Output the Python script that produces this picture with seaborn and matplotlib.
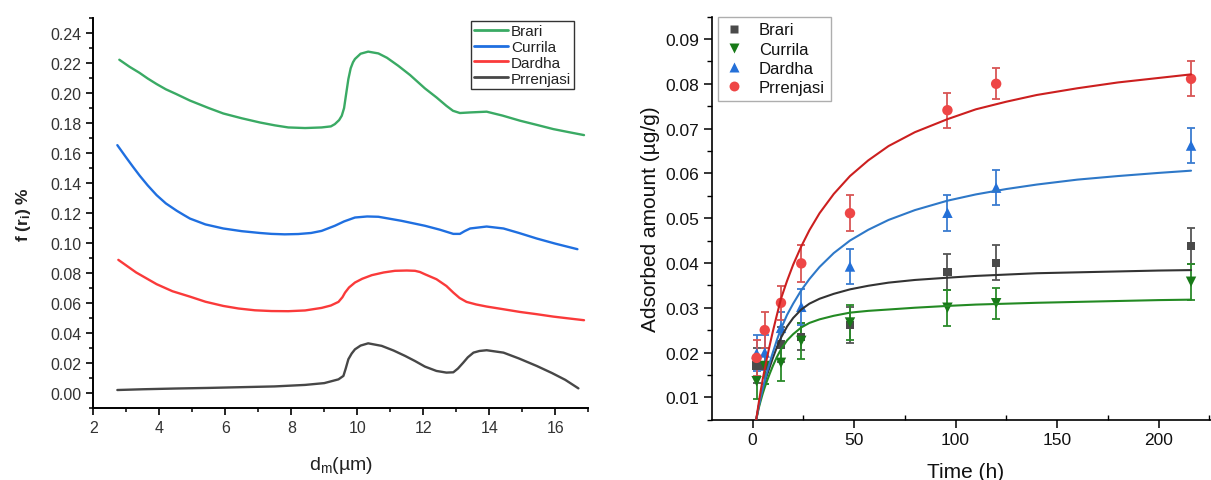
import matplotlib
matplotlib.use("Agg")
import matplotlib.pyplot as plt
from matplotlib.ticker import MultipleLocator, FormatStrFormatter
from matplotlib.lines import Line2D
import seaborn as sns
import pandas as pd

# ---------------- Left panel data: size distribution curves ----------------
names = ["Brari", "Currila", "Dardha", "Prrenjasi"]

brari_x = [2.79, 3.1, 3.4, 3.65, 3.92, 4.2, 4.5, 4.93, 5.5, 5.94, 6.5, 7.05, 7.5, 7.91, 8.42, 8.92, 9.2, 9.32,
           9.45, 9.53, 9.6, 9.66, 9.73, 9.8, 9.87, 9.93, 10.1, 10.33, 10.64, 10.9, 11.24, 11.6, 12.05,
           12.4, 12.7, 12.9, 13.11, 13.42, 13.92, 14.4, 14.93, 15.44, 15.94, 16.4, 16.87]
brari_y = [0.2222, 0.2175, 0.2135, 0.2097, 0.2060, 0.2025, 0.1995, 0.1950, 0.1900, 0.1864, 0.1832, 0.1804,
           0.1785, 0.1771, 0.1767, 0.1771, 0.1778, 0.1793, 0.1820, 0.1849, 0.1900, 0.1990, 0.2093, 0.2165,
           0.2205, 0.2227, 0.2262, 0.2276, 0.2264, 0.2235, 0.2182, 0.2120, 0.2031, 0.1971, 0.1915, 0.1882,
           0.1867, 0.1871, 0.1876, 0.1850, 0.1816, 0.1788, 0.1760, 0.1740, 0.1720]

currila_x = [2.73, 3.0, 3.2, 3.41, 3.65, 3.92, 4.2, 4.53, 4.75, 4.93, 5.4, 5.94, 6.5, 7.05, 7.4, 7.8, 8.21,
             8.6, 8.92, 9.32, 9.6, 9.93, 10.3, 10.64, 11.34, 12.05, 12.5, 12.91, 13.11, 13.25, 13.42,
             13.92, 14.43, 14.9, 15.44, 16.0, 16.67]
currila_y = [0.1653, 0.1570, 0.1510, 0.1449, 0.1385, 0.1320, 0.1265, 0.1216, 0.1187, 0.1164, 0.1125,
             0.1098, 0.1080, 0.1068, 0.1062, 0.1059, 0.1061, 0.1068, 0.1082, 0.1116, 0.1145, 0.1171,
             0.1178, 0.1176, 0.1149, 0.1116, 0.1090, 0.1062, 0.1062, 0.1080, 0.1098, 0.1111, 0.1098,
             0.1068, 0.1031, 0.0997, 0.0960]

dardha_x = [2.76, 3.3, 3.92, 4.4, 4.93, 5.4, 5.94, 6.4, 6.9, 7.4, 7.91, 8.42, 8.92, 9.2, 9.43, 9.55,
            9.63, 9.75, 9.93, 10.15, 10.44, 10.8, 11.14, 11.5, 11.75, 11.9, 12.05, 12.4, 12.7,
            12.91, 13.1, 13.31, 13.6, 13.92, 14.43, 14.93, 15.44, 15.94, 16.4, 16.87]
dardha_y = [0.0889, 0.0805, 0.0727, 0.0680, 0.0644, 0.0610, 0.0582, 0.0565, 0.0553, 0.0548, 0.0547,
            0.0552, 0.0569, 0.0585, 0.0609, 0.0640, 0.0671, 0.0705, 0.0738, 0.0763, 0.0787, 0.0805,
            0.0816, 0.0818, 0.0816, 0.0808, 0.0793, 0.0760, 0.0715, 0.0671, 0.0635, 0.0609, 0.0592,
            0.0578, 0.0560, 0.0542, 0.0527, 0.0511, 0.0499, 0.0487]

prrenjasi_x = [2.73, 3.5, 4.5, 5.5, 6.5, 7.5, 8.42, 9.0, 9.43, 9.58, 9.65, 9.73, 9.83, 9.93, 10.1,
               10.33, 10.74, 11.1, 11.45, 11.75, 12.05, 12.4, 12.7, 12.91, 13.05, 13.21, 13.35,
               13.52, 13.7, 13.92, 14.43, 14.9, 15.44, 15.9, 16.3, 16.70]
prrenjasi_y = [0.0022, 0.0027, 0.0032, 0.0036, 0.0041, 0.0046, 0.0056, 0.0068, 0.0093, 0.0116, 0.0165,
               0.0227, 0.0265, 0.0293, 0.0318, 0.0333, 0.0316, 0.0285, 0.0249, 0.0215, 0.0178, 0.0149,
               0.0138, 0.0140, 0.0165, 0.0204, 0.0240, 0.0271, 0.0282, 0.0287, 0.0271, 0.0232, 0.0182,
               0.0135, 0.0090, 0.0033]

# ---------------- Right panel data: adsorption kinetics ----------------
time_h = [2, 6, 14, 24, 48, 96, 120, 216]
brari_q = [0.0171, 0.0170, 0.0218, 0.0235, 0.0261, 0.0380, 0.0400, 0.0438]
brari_err = [0.004, 0.004, 0.004, 0.003, 0.004, 0.004, 0.0039, 0.0041]
currila_q = [0.0136, 0.0170, 0.0177, 0.0226, 0.0267, 0.0300, 0.0310, 0.0358]
currila_err = [0.004, 0.004, 0.004, 0.004, 0.004, 0.004, 0.0035, 0.004]
dardha_q = [0.0198, 0.0200, 0.0255, 0.0302, 0.0392, 0.0512, 0.0568, 0.0662]
dardha_err = [0.004, 0.004, 0.0035, 0.004, 0.004, 0.004, 0.0039, 0.0039]
prrenjasi_q = [0.0188, 0.0250, 0.0311, 0.0399, 0.0511, 0.0741, 0.0800, 0.0811]
prrenjasi_err = [0.004, 0.004, 0.0038, 0.0041, 0.004, 0.0039, 0.0035, 0.0039]

# fitted curves
fit_t = [1.8, 3, 4, 5, 6, 7, 8.5, 10, 12, 14, 17, 20, 24, 28, 33, 40, 48, 57, 67, 80, 96,
         110, 125, 140, 160, 180, 200, 216]
fit_brari = [0.0050, 0.0080, 0.0100, 0.0118, 0.0133, 0.0148, 0.0168, 0.0188, 0.0212, 0.0233, 0.0258,
             0.0277, 0.0296, 0.0309, 0.0320, 0.0331, 0.0341, 0.0349, 0.0356, 0.0362, 0.0367,
             0.0371, 0.0374, 0.0377, 0.0379, 0.0381, 0.0383, 0.0384]
fit_currila = [0.0050, 0.0075, 0.0092, 0.0108, 0.0122, 0.0135, 0.0153, 0.0170, 0.0190, 0.0207, 0.0227,
               0.0241, 0.0256, 0.0266, 0.0274, 0.0282, 0.0289, 0.0293, 0.0296, 0.0300, 0.0304,
               0.0307, 0.0309, 0.0311, 0.0313, 0.0315, 0.0317, 0.0318]
fit_dardha = [0.0050, 0.0078, 0.0099, 0.0119, 0.0137, 0.0154, 0.0178, 0.0200, 0.0228, 0.0253, 0.0284,
              0.0309, 0.0339, 0.0364, 0.0391, 0.0422, 0.0450, 0.0474, 0.0496, 0.0518, 0.0539,
              0.0553, 0.0565, 0.0575, 0.0586, 0.0594, 0.0601, 0.0606]
fit_prrenjasi = [0.0050, 0.0086, 0.0114, 0.0140, 0.0163, 0.0186, 0.0217, 0.0247, 0.0284, 0.0320, 0.0360,
                 0.0396, 0.0437, 0.0473, 0.0511, 0.0554, 0.0594, 0.0629, 0.0661, 0.0692, 0.0721,
                 0.0743, 0.0760, 0.0775, 0.0790, 0.0803, 0.0813, 0.0821]

# ---------------- styling ----------------
sns.set_theme(style="ticks")
plt.rcParams["font.family"] = ["Liberation Sans", "DejaVu Sans"]
plt.rcParams["mathtext.fontset"] = "custom"
plt.rcParams["mathtext.rm"] = "Liberation Sans"
plt.rcParams["mathtext.it"] = "Liberation Sans:italic"
plt.rcParams["mathtext.bf"] = "Liberation Sans:bold"

left_colors = {"Brari": "#3aaa64", "Currila": "#1f6fe0", "Dardha": "#fa3a3a", "Prrenjasi": "#474747"}
pt_colors = {"Brari": "#4a4a4a", "Currila": "#187a18", "Dardha": "#2470d8", "Prrenjasi": "#ee4646"}
err_colors = {"Brari": "#555555", "Currila": "#2a8a2a", "Dardha": "#3a7cd0", "Prrenjasi": "#d85555"}
fit_colors = {"Brari": "#333333", "Currila": "#238a23", "Dardha": "#2e78c8", "Prrenjasi": "#cc1f1f"}
markers = {"Brari": "s", "Currila": "v", "Dardha": "^", "Prrenjasi": "o"}
msizes = {"Brari": 6.0, "Currila": 7.5, "Dardha": 7.5, "Prrenjasi": 7.5}

fig = plt.figure(figsize=(12.11, 4.81), dpi=100)
axL = fig.add_axes([0.0770, 0.1490, 0.4088, 0.8115])
axR = fig.add_axes([0.5879, 0.1254, 0.4191, 0.8380])

# ---------------- left panel ----------------
left_frames = []
for nm, xs, ys in zip(names, [brari_x, currila_x, dardha_x, prrenjasi_x],
                      [brari_y, currila_y, dardha_y, prrenjasi_y]):
    left_frames.append(pd.DataFrame({"d": xs, "f": ys, "site": nm}))
dfL = pd.concat(left_frames, ignore_index=True)
sns.lineplot(data=dfL, x="d", y="f", hue="site", palette=left_colors, sort=False,
             estimator=None, linewidth=1.7, ax=axL, legend=False)
for ln in axL.get_lines():
    ln.set_solid_joinstyle("round")

axL.set_xlim(2, 17)
axL.set_ylim(-0.01, 0.25)
axL.xaxis.set_major_locator(MultipleLocator(2))
axL.xaxis.set_minor_locator(MultipleLocator(1))
axL.set_yticks([0.00, 0.02, 0.04, 0.06, 0.08, 0.10, 0.12, 0.14, 0.16, 0.18, 0.20, 0.22, 0.24])
axL.yaxis.set_minor_locator(MultipleLocator(0.01))
axL.yaxis.set_major_formatter(FormatStrFormatter("%.2f"))
for s in ["top", "right"]:
    axL.spines[s].set_visible(False)
for s in ["left", "bottom"]:
    axL.spines[s].set_linewidth(1.4)
    axL.spines[s].set_color("black")
axL.tick_params(which="major", direction="out", length=5, width=1.2, labelsize=11.5,
                labelcolor="#333333", color="black")
axL.tick_params(which="minor", direction="out", length=3, width=1.1, color="black")
axL.set_xlabel(r"d$_\mathregular{m}$(µm)", fontsize=14, color="#222222")
axL.set_ylabel(r"f (r$_\mathbf{i}$) %", fontsize=12.5, fontweight="bold", color="#222222")
axL.xaxis.set_label_coords(0.5, -0.117)
axL.yaxis.set_label_coords(-0.122, 0.5)

handlesL = [Line2D([0], [0], color=left_colors[n], lw=2) for n in names]
legL = axL.legend(handlesL, names, loc="upper right", bbox_to_anchor=(0.971, 0.992),
                  borderaxespad=0, fontsize=11, frameon=True, fancybox=False,
                  handlelength=2.2, handletextpad=0.2, labelspacing=0.12, borderpad=0.2)
legL.get_frame().set_edgecolor("black")
legL.get_frame().set_linewidth(1.0)
for t in legL.get_texts():
    t.set_color("#222222")

# ---------------- right panel ----------------
fit_frames = []
for nm, fy in zip(names, [fit_brari, fit_currila, fit_dardha, fit_prrenjasi]):
    fit_frames.append(pd.DataFrame({"t": fit_t, "q": fy, "site": nm}))
dfF = pd.concat(fit_frames, ignore_index=True)

pts = {"Brari": (brari_q, brari_err), "Currila": (currila_q, currila_err),
       "Dardha": (dardha_q, dardha_err), "Prrenjasi": (prrenjasi_q, prrenjasi_err)}
for nm in names:
    q, e = pts[nm]
    axR.errorbar(time_h, q, yerr=e, fmt="none", ecolor=err_colors[nm], elinewidth=1.3,
                 capsize=3.2, capthick=1.3, zorder=2)
    sns.scatterplot(x=time_h, y=q, marker=markers[nm], color=pt_colors[nm],
                    s=msizes[nm] ** 2, edgecolor="none", linewidth=0, ax=axR, zorder=3)

sns.lineplot(data=dfF, x="t", y="q", hue="site", palette=fit_colors, sort=False,
             estimator=None, linewidth=1.5, ax=axR, legend=False, zorder=4)

axR.set_xlim(-20, 230)
axR.set_ylim(0.005, 0.095)
axR.xaxis.set_major_locator(MultipleLocator(50))
axR.xaxis.set_minor_locator(MultipleLocator(25))
axR.set_yticks([0.01, 0.02, 0.03, 0.04, 0.05, 0.06, 0.07, 0.08, 0.09])
axR.yaxis.set_minor_locator(MultipleLocator(0.005))
axR.yaxis.set_major_formatter(FormatStrFormatter("%.2f"))
for s in ["top", "right"]:
    axR.spines[s].set_visible(False)
for s in ["left", "bottom"]:
    axR.spines[s].set_linewidth(1.2)
    axR.spines[s].set_color("black")
axR.tick_params(which="major", direction="out", length=5.5, width=1.1, labelsize=12.5,
                labelcolor="#111111", color="black")
axR.tick_params(axis="y", which="minor", direction="out", length=3.5, width=1.0, color="black")
axR.tick_params(axis="x", which="minor", direction="in", length=3.5, width=1.0, color="black")
axR.set_xlabel("Time (h)", fontsize=15, color="#111111")
axR.set_ylabel("Adsorbed amount (µg/g)", fontsize=15, color="#111111")
axR.xaxis.set_label_coords(0.5, -0.105)
axR.yaxis.set_label_coords(-0.102, 0.5)

handlesR = [Line2D([0], [0], marker=markers[n], color="none", markerfacecolor=pt_colors[n],
                   markeredgecolor="none", markersize=msizes[n] * 0.95) for n in names]
legR = axR.legend(handlesR, names, loc="upper left", bbox_to_anchor=(0.012, 1.0),
                  borderaxespad=0, fontsize=12, frameon=True, fancybox=False,
                  handlelength=1.2, handletextpad=0.9, labelspacing=0.25, borderpad=0.35)
legR.get_frame().set_edgecolor("#9a9a9a")
legR.get_frame().set_linewidth(1.0)
for t in legR.get_texts():
    t.set_color("#111111")

fig.savefig("out.png", dpi=100)
